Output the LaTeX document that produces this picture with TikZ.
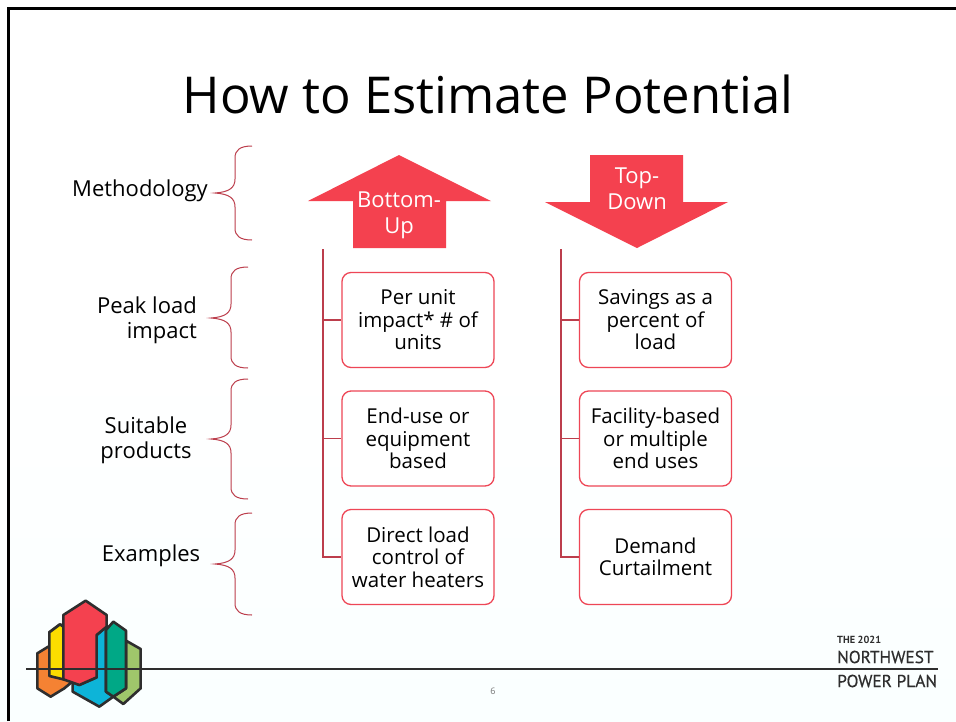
\documentclass[tikz,border=0pt]{standalone}
\usepackage{fontspec}
\setmainfont{Open Sans}
\newfontfamily\logofont[FakeBold=0.5]{PT Sans}
\newfontfamily\logobold{PT Sans}
\usetikzlibrary{positioning}
\definecolor{ArrRed}{HTML}{F4414F}
\definecolor{BoxRed}{HTML}{EE4656}
\definecolor{TrunkRed}{HTML}{BC3E4C}
\definecolor{LogoInk}{HTML}{2E2E2E}
\definecolor{LogoOrange}{HTML}{F58233}
\definecolor{LogoYellow}{HTML}{FBDD00}
\definecolor{LogoBlue}{HTML}{0DB4D8}
\definecolor{LogoTeal}{HTML}{00A886}
\definecolor{LogoGreen}{HTML}{9FC66B}
\newcommand{\bodyfont}{\fontsize{20.5}{22.5}\selectfont}
\newcommand{\sidefont}{\fontsize{22}{25}\selectfont}
\tikzset{
    itembox/.style={draw=BoxRed,line width=1.3pt,rounded corners=9pt,minimum width=152pt,minimum height=95pt,inner sep=2pt,align=center,font=\bodyfont,fill=white},
    arrowtxt/.style={text=white,align=center,inner sep=0pt,font=\fontsize{22}{25.5}\selectfont},
    sidelbl/.style={align=center,inner sep=0pt,font=\sidefont},
    trunk/.style={draw=TrunkRed,line width=1.5pt},
    curly/.style={draw=TrunkRed,line width=1pt},
    logopart/.style={draw=LogoInk,line width=2.6pt,line join=round},
    pics/sidebrace/.style n args={3}{
        code = {
            % #1 half height above, #2 half height below, #3 spine offset
            \draw[curly] (#3+17,-#1) .. controls (#3+5,-#1) and (#3,-#1+4) .. (#3,-#1+12) -- (#3,-14) .. controls (#3,-5) and (#3-6,-1) .. (#3-20,0) .. controls (#3-6,1) and (#3,5) .. (#3,14) -- (#3,#2-12) .. controls (#3,#2-4) and (#3+5,#2) .. (#3+17,#2);
        }
    }
}

\begin{document}
\begin{tikzpicture}[x=1pt,y=-1pt]
    \useasboundingbox (0,0) rectangle (956,721);    % Freeze the bounding box
    \fill[top color=white,bottom color=white!98!cyan,middle color=white] (0,0) rectangle (956,721);
    %
    % --- --- --- Slide frame
    \draw[black,line width=3pt] (8,721) -- (8,8) -- (956,8);
    \node[inner sep=0pt,font=\fontsize{50.8}{56}\selectfont] (TITLE) at (488,94) {How to Estimate Potential};
    %
    % --- --- --- Arrows
    \fill[ArrRed] (399,155) -- (491,201) -- (446,201) -- (446,248) -- (353,248) -- (353,201) -- (308,201) -- cycle;
    \fill[ArrRed] (590,155) -- (683,155) -- (683,202) -- (728,202) -- (637,248) -- (545,202) -- (590,202) -- cycle;
    \node[arrowtxt] (BOTTOMUP) at (399,215.5) {Bottom-\\Up};
    \node[arrowtxt] (TOPDOWN) at (637,188.5) {Top-\\Down};
    %
    % --- --- --- Item boxes
    \node[itembox] (L1) at (418,320) {Per unit\\impact* \# of\\units};
    \node[itembox] (L2) at (418,438.5) {End-use or\\equipment\\based};
    \node[itembox] (L3) at (418,557) {Direct load\\control of\\water heaters};
    \node[itembox] (R1) at (655.5,320) {Savings as a\\percent of\\load};
    \node[itembox] (R2) at (655.5,438.5) {Facility-based\\or multiple\\end uses};
    \node[itembox] (R3) at (655.5,557) {Demand\\Curtailment};
    %
    % --- --- --- Trunks
    \coordinate (LTOP) at (323,249);
    \coordinate (RTOP) at (561,249);
    \draw[trunk] (LTOP) |- (L3.west);
    \draw[trunk] (LTOP |- L1.west) -- (L1.west);
    \draw[trunk] (LTOP |- L2.west) -- (L2.west);
    \draw[trunk] (RTOP) |- (R3.west);
    \draw[trunk] (RTOP |- R1.west) -- (R1.west);
    \draw[trunk] (RTOP |- R2.west) -- (R2.west);
    %
    % --- --- --- Side labels and braces
    \node[sidelbl] (METH) at (140,191) {Methodology};
    \node[sidelbl,align=right,anchor=east] (PEAK) at (197,320) {Peak load\\impact};
    \node[sidelbl] (SUIT) at (146,440) {Suitable\\products};
    \node[sidelbl] (EXMP) at (151,556) {Examples};
    \pic at (0,193) {sidebrace={47}{47}{235}};
    \pic at (0,318) {sidebrace={51}{50}{231}};
    \pic at (0,439) {sidebrace={60}{60}{231}};
    \pic at (0,564) {sidebrace={51}{51}{235}};
    %
    % --- --- --- Logo
    \begin{scope}[shift={(0,580)},x=0.3333pt,y=-0.3333pt]
        \filldraw[logopart,fill=LogoOrange] (112,220) -- (148,198) -- (148,157) -- (180,133) -- (217,157) -- (217,305) -- (193,325) -- (152,350) -- (112,325) -- cycle;
        \filldraw[logopart,fill=LogoYellow] (148,157) -- (180,133) -- (190,140) -- (190,298) -- (148,288) -- cycle;
        \filldraw[logopart,fill=LogoBlue] (290,165) -- (318,140) -- (318,335) -- (340,350) -- (298,380) -- (218,335) -- (218,305) -- (238,315) -- (290,292) -- cycle;
        \filldraw[logopart,fill=ArrRed] (190,105) -- (257,62) -- (320,105) -- (320,140) -- (290,165) -- (290,292) -- (238,315) -- (190,298) -- cycle;
        \filldraw[logopart,fill=LogoGreen] (378,182) -- (422,207) -- (422,325) -- (370,372) -- (340,350) -- (378,325) -- cycle;
        \filldraw[logopart,fill=LogoTeal] (318,150) -- (340,125) -- (378,152) -- (378,325) -- (340,350) -- (318,335) -- cycle;
    \end{scope}
    \draw[LogoInk,line width=2.8pt] (26,669) -- (938,669);
    %
    % --- --- --- Plan name
    \node[anchor=west,inner sep=0pt,text=LogoInk,font=\logobold\bfseries\fontsize{10.3}{12}\selectfont] (THE) at (837,640) {THE 2021};
    \node[anchor=west,inner sep=0pt,text=LogoInk,font=\logofont\fontsize{17.3}{20}\selectfont] (NW) at (837,657) {NORTHWEST};
    \node[anchor=west,inner sep=0pt,text=LogoInk,font=\logofont\fontsize{17.3}{20}\selectfont] (PP) at (837,681) {POWER PLAN};
    \node[inner sep=0pt,text=black!55,font=\fontsize{9}{11}\selectfont] (PAGE) at (493,691) {6};
\end{tikzpicture}
\end{document}
